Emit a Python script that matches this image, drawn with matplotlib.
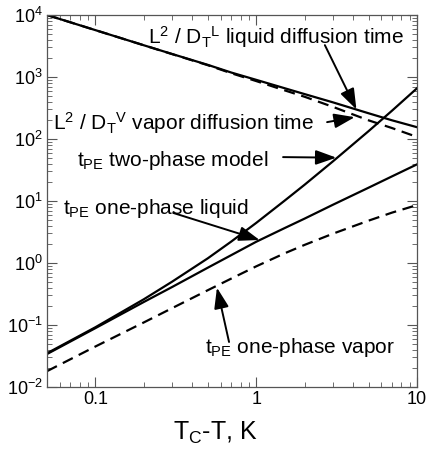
import matplotlib
matplotlib.use("Agg")
import matplotlib.pyplot as plt
from matplotlib.ticker import LogLocator, FixedLocator, FixedFormatter, NullFormatter

plt.rcParams['font.family'] = ['Liberation Sans', 'DejaVu Sans']
plt.rcParams['mathtext.fontset'] = 'custom'
plt.rcParams['mathtext.rm'] = 'Liberation Sans'
plt.rcParams['mathtext.it'] = 'Liberation Sans'
plt.rcParams['mathtext.bf'] = 'Liberation Sans:bold'
plt.rcParams['mathtext.default'] = 'regular'
plt.rcParams['axes.unicode_minus'] = False

# ---- data ----
dT = [0.05, 0.1, 0.2, 0.3, 0.5, 0.7, 1, 1.5, 2, 3, 5, 7, 10]
liquid_diffusion = [10000, 5700, 3250, 2350, 1570, 1180, 900, 660, 530, 390, 260, 200, 155]
vapor_diffusion = [10000, 5700, 3250, 2340, 1550, 1150, 860, 610, 480, 330, 200, 150, 108]
tpe_two_phase = [0.035, 0.092, 0.26, 0.50, 1.19, 2.22, 4.43, 10.1, 18.3, 43.6, 134, 287, 658]
tpe_one_liquid = [0.034, 0.089, 0.235, 0.41, 0.84, 1.34, 2.2, 3.65, 5.2, 8.7, 16.4, 25, 39]
tpe_one_vapor = [0.018, 0.045, 0.110, 0.187, 0.364, 0.561, 0.883, 1.43, 1.96, 2.97, 4.82, 6.5, 8.6]

x_ticks = [0.1, 1, 10]
x_ticklabels = ['0.1', '1', '10']

fig = plt.figure(figsize=(4.31, 4.54), dpi=100)
ax = fig.add_axes([47/431, 1-387/454, 370/431, 372/454])

lw = 1.6
dash = (0, (5, 3))
ax.plot(dT, liquid_diffusion, color='black', lw=lw)
ax.plot(dT, vapor_diffusion, color='black', lw=lw, linestyle=dash)
ax.plot(dT, tpe_two_phase, color='black', lw=lw)
ax.plot(dT, tpe_one_liquid, color='black', lw=lw)
ax.plot(dT, tpe_one_vapor, color='black', lw=lw, linestyle=dash)

ax.set_xscale('log')
ax.set_yscale('log')
ax.set_xlim(0.05, 10)
ax.set_ylim(1e-2, 1e4)

ax.xaxis.set_major_locator(FixedLocator(x_ticks))
ax.xaxis.set_major_formatter(FixedFormatter(x_ticklabels))
ax.xaxis.set_minor_locator(LogLocator(base=10, subs=range(2, 10), numticks=20))
ax.xaxis.set_minor_formatter(NullFormatter())
ax.yaxis.set_major_locator(LogLocator(base=10, numticks=20))
ax.yaxis.set_minor_locator(LogLocator(base=10, subs=range(2, 10), numticks=20))
ax.yaxis.set_minor_formatter(NullFormatter())

ax.tick_params(which='both', direction='in', top=True, right=True, color='#555555')
ax.tick_params(which='major', length=7, width=0.8, labelsize=13, pad=3)
ax.tick_params(which='minor', length=3.5, width=0.6)
for s in ax.spines.values():
    s.set_color('#555555')
    s.set_linewidth(0.9)

fig.text(215/431, 1-440/454, 'T$_C$-T, K', fontsize=18, ha='center', va='baseline')

fs = 15
arrow = dict(arrowstyle='-|>,head_length=0.9,head_width=0.32', color='black', lw=1.4,
             shrinkA=0, shrinkB=0, mutation_scale=14)

ax.text(0.273, 0.922, 'L$^2$ / D$_T$$^L$ liquid diffusion time', transform=ax.transAxes,
        fontsize=fs, ha='left', va='baseline')
ax.annotate('', xy=(4.2, 300), xycoords='data', xytext=(0.751, 0.919),
            textcoords='axes fraction', arrowprops=arrow)

ax.text(0.016, 0.691, 'L$^2$ / D$_T$$^V$ vapor diffusion time', transform=ax.transAxes,
        fontsize=fs, ha='left', va='baseline')
ax.annotate('', xy=(4.1, 225), xycoords='data', xytext=(0.757, 0.712),
            textcoords='axes fraction', arrowprops=arrow)

ax.text(0.081, 0.594, 't$_{PE}$ two-phase model', transform=ax.transAxes,
        fontsize=fs, ha='left', va='baseline')
ax.annotate('', xy=(3.15, 50), xycoords='data', xytext=(0.638, 0.618),
            textcoords='axes fraction', arrowprops=arrow)

ax.text(0.043, 0.465, 't$_{PE}$ one-phase liquid', transform=ax.transAxes,
        fontsize=fs, ha='left', va='baseline')
ax.annotate('', xy=(1.05, 2.35), xycoords='data', xytext=(0.341, 0.468),
            textcoords='axes fraction', arrowprops=arrow)

ax.text(0.427, 0.091, 't$_{PE}$ one-phase vapor', transform=ax.transAxes,
        fontsize=fs, ha='left', va='baseline')
ax.annotate('', xy=(0.57, 0.40), xycoords='data', xytext=(0.492, 0.121),
            textcoords='axes fraction', arrowprops=arrow)

fig.savefig('out.png', dpi=100)
